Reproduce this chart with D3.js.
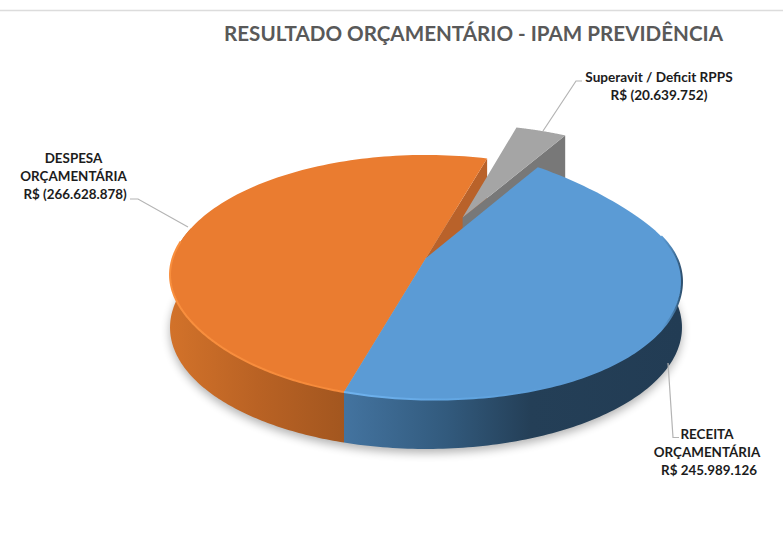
<!DOCTYPE html>
<html lang="en">
<head>
<meta charset="utf-8">
<title>Resultado orcamentario</title>
<script src="https://d3js.org/d3.v7.min.js"></script>
<style type="text/css">
html, body { margin: 0; padding: 0; background: #fff; }
svg { display: block; }
text { font-family: Lato, "Open Sans", sans-serif; font-weight: 700; }
</style>
</head>
<body>
<div id="chart"></div>
<script type="text/javascript">
// data
const categories = ["RECEITA ORÇAMENTÁRIA", "DESPESA ORÇAMENTÁRIA", "Superavit / Deficit RPPS"];
const values = [245989126, 266628878, 20639752];
const explode = [0, 0, 0.39];
const topColors = ["#5b9bd5", "#ea7c30", "#a5a5a5"];
const titleText = "RESULTADO ORÇAMENTÁRIO - IPAM PREVIDÊNCIA";
const labelLines = [
  ["RECEITA", "ORÇAMENTÁRIA", "R$ 245.989.126"],
  ["DESPESA", "ORÇAMENTÁRIA", "R$ (266.628.878)"],
  ["Superavit / Deficit RPPS", "R$ (20.639.752)"]
];

const w = 783;
const h = 557;
const svg = d3.select("#chart").append("svg").attr("width", w).attr("height", h);
const defs = svg.append("defs");

// top line of the slide
svg.append("line").attr("x1", 0).attr("x2", w).attr("y1", 10.5).attr("y2", 10.5)
  .attr("stroke", "#dcdcdc").attr("stroke-width", 1.5);

// title
svg.append("text").attr("x", 473.5).attr("y", 41).attr("text-anchor", "middle")
  .attr("font-size", 20.6).attr("fill", "#595959").text(titleText);

// perspective disc: u to the right, v towards the viewer
const x0 = 426, y0 = 258, bx = 253, by = 118.7, k = 0.152, depth = 51;
function project(u, v, drop) {
  const d = 1 - k * v;
  return [x0 + bx * u / d, y0 + by * v / d + (drop || 0)];
}
// the top rim of the original is not a clean ellipse, small smooth shift in px, one knot every 30 deg from 30
const rimShift = d3.interpolateBasis([0, 12, 4, 6, 5, 1, 0, -5, 0, 0, 0, 0, 0]);
const deg = Math.PI / 180;

// angle clockwise from the top of the disc
function rim(a, off, drop) {
  const p = project(Math.sin(a) + off[0], -Math.cos(a) + off[1], drop);
  if (drop === undefined && off[0] === 0 && off[1] === 0) p[1] += rimShift((a / deg - 30) / 360);
  return p;
}
const line = d3.line();
function arcPoints(a0, a1, off, drop) {
  return d3.range(0, 121).map(i => rim(a0 + (a1 - a0) * i / 120, off, drop));
}

const startAngle = 30 * deg;
const slices = d3.pie().sort(null).startAngle(startAngle).endAngle(startAngle + 2 * Math.PI)(values)
  .map((d, i) => {
    const mid = (d.startAngle + d.endAngle) / 2;
    return {
      a0: d.startAngle, a1: d.endAngle,
      off: [explode[i] * Math.sin(mid), -explode[i] * Math.cos(mid)],
      color: topColors[i]
    };
  });
const [blue, orange, gray] = slices;

function topPath(s) {
  return line([project(s.off[0], s.off[1]), ...arcPoints(s.a0, s.a1, s.off)]) + "Z";
}
// outer wall, only the part of the rim that faces the viewer
function wallPath(s, a0, a1) {
  return line([...arcPoints(a0, a1, s.off), ...arcPoints(a0, a1, s.off, depth).reverse()]) + "Z";
}
// flat cut face from the centre to the rim at angle a
function cutPath(s, a) {
  const c = project(s.off[0], s.off[1]);
  const r = rim(a, s.off);
  return line([c, r, [r[0], r[1] + depth], [c[0], c[1] + depth]]) + "Z";
}

// gradients and blurs
function gradient(id, x1, x2, stops) {
  const g = defs.append("linearGradient").attr("id", id)
    .attr("gradientUnits", "userSpaceOnUse")
    .attr("x1", x1).attr("x2", x2).attr("y1", 0).attr("y2", 0);
  stops.forEach(s => g.append("stop").attr("offset", s[0]).attr("stop-color", s[1]));
}
gradient("wallBlue", 346, 682, [[0, "#43739f"], [0.3, "#325a7d"], [0.55, "#243f57"], [1, "#223c54"]]);
gradient("wallOrange", 170, 346, [[0, "#d2722a"], [0.5, "#b96224"], [1, "#a2561f"]]);
gradient("rimBlue", 346, 682, [[0, "#6fb2ee"], [0.35, "#62a6e2"], [0.6, "#5b9bd5"], [0.94, "#5b9bd5"], [0.97, "#4a80b0"], [1, "#2c4f6e"]]);
gradient("rimOrange", 170, 346, [[0, "#f98f3e"], [1, "#f68a3a"]]);
defs.append("filter").attr("id", "shadowBlur")
  .attr("x", "-10%").attr("y", "-20%").attr("width", "120%").attr("height", "140%")
  .append("feGaussianBlur").attr("stdDeviation", 5);
defs.append("filter").attr("id", "soft")
  .append("feGaussianBlur").attr("stdDeviation", 0.6);

const pie = svg.append("g");

// ground shadow
pie.append("path")
  .attr("d", line(arcPoints(0, 2 * Math.PI, [0, 0], depth + 4)) + "Z")
  .attr("fill", "#000").attr("opacity", 0.3).attr("filter", "url(#shadowBlur)");

// back to front
pie.append("path").attr("d", cutPath(orange, orange.a1)).attr("fill", "#b9622a");
pie.append("path").attr("d", cutPath(gray, gray.a1)).attr("fill", "#787878");
pie.append("path").attr("d", topPath(gray)).attr("fill", gray.color);
pie.append("path").attr("d", wallPath(orange, orange.a0, 285 * deg)).attr("fill", "url(#wallOrange)");
pie.append("path").attr("d", topPath(orange)).attr("fill", orange.color);
pie.append("path").attr("d", wallPath(blue, 80 * deg, blue.a1)).attr("fill", "url(#wallBlue)");
pie.append("path").attr("d", topPath(blue)).attr("fill", blue.color);

// lit bevel along the rim
pie.append("path").attr("d", line(arcPoints(orange.a0, 278 * deg, orange.off)))
  .attr("fill", "none").attr("stroke", "url(#rimOrange)").attr("stroke-width", 2).attr("filter", "url(#soft)");
pie.append("path").attr("d", line(arcPoints(75 * deg, blue.a1, blue.off)))
  .attr("fill", "none").attr("stroke", "url(#rimBlue)").attr("stroke-width", 2).attr("filter", "url(#soft)");

// leader lines
const leaders = [
  [[668, 363], [673, 437.5], [679, 437.5]],
  [[188, 227], [138, 199], [130, 199]],
  [[543, 131], [576, 81], [582, 81]]
];
svg.append("g").selectAll("path").data(leaders).join("path")
  .attr("d", d => line(d)).attr("fill", "none")
  .attr("stroke", "#b4b4b4").attr("stroke-width", 1.2);

// data labels
const labelPos = [
  {x: 707, y: 439, size: 13.4, dx: [0, 0, 2]},
  {x: 73.5, y: 163, size: 13.4, dx: [0, 0, 1.5]},
  {x: 659, y: 82, size: 13.6, dx: [0, 0]}
];
labelLines.forEach((lines, i) => {
  const t = svg.append("text").attr("text-anchor", "middle")
    .attr("font-size", labelPos[i].size).attr("fill", "#1c1c1c");
  lines.forEach((l, j) => t.append("tspan")
    .attr("x", labelPos[i].x + labelPos[i].dx[j])
    .attr("y", labelPos[i].y + j * 18)
    .text(l));
});
</script>
</body>
</html>
